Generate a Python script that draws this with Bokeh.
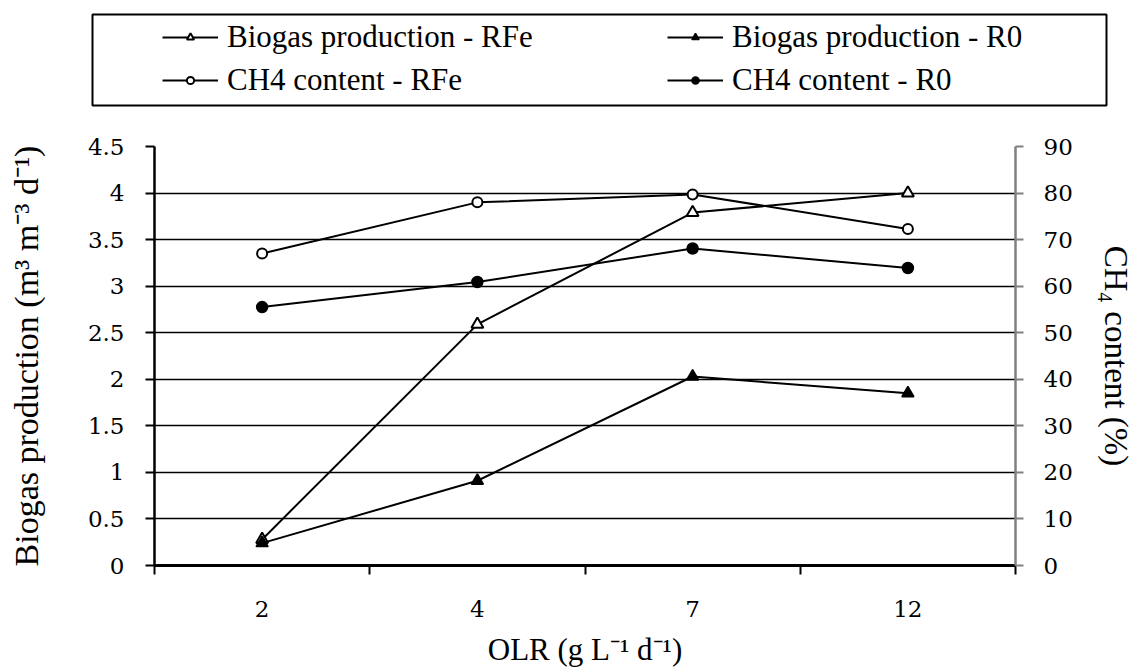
from bokeh.plotting import figure
from bokeh.models import (Range1d, LinearAxis, FixedTicker,
                          CustomJSTickFormatter, Legend, LegendItem)
from bokeh.embed import file_html
from bokeh.resources import INLINE

# ---------------- data ----------------
olr_labels = ["2", "4", "7", "12"]
biogas_rfe = [0.28, 2.59, 3.79, 4.00]
biogas_r0 = [0.24, 0.91, 2.03, 1.85]
ch4_rfe = [67.0, 78.0, 79.7, 72.3]
ch4_r0 = [55.5, 60.9, 68.1, 63.9]
series_names = ["Biogas production - RFe", "Biogas production - R0",
                "CH4 content - RFe", "CH4 content - R0"]
left_ticks = [0, 0.5, 1, 1.5, 2, 2.5, 3, 3.5, 4, 4.5]
right_ticks = [0, 10, 20, 30, 40, 50, 60, 70, 80, 90]
left_label = "Biogas production (m³ m⁻³ d⁻¹)"
right_label = "CH₄ content (%)"
bottom_label = "OLR (g L⁻¹ d⁻¹)"

# category slots: each category sits in the middle of its slot (Excel category axis)
n_cat = len(olr_labels)
x_pos = [i + 0.5 for i in range(n_cat)]
x_bounds = list(range(n_cat + 1))

TICK_FONT = "DejaVu Serif"
LABEL_FONT = "Liberation Serif"

series_style = [
    dict(y=biogas_rfe, marker="triangle", size=12, fill="white", lw=2, rng="default"),
    dict(y=biogas_r0, marker="triangle", size=12, fill="black", lw=1.5, rng="default"),
    dict(y=ch4_rfe, marker="circle", size=10, fill="white", lw=2, rng="ch4"),
    dict(y=ch4_r0, marker="circle", size=11, fill="black", lw=1.5, rng="ch4"),
]

# ---------------- main chart ----------------
p = figure(width=1136, height=559, x_range=Range1d(0, n_cat),
           y_range=Range1d(0, 4.5),
           output_backend="svg", toolbar_location=None,
           min_border_left=154, min_border_right=119, min_border_top=36, min_border_bottom=104)
p.outline_line_color = None
p.background_fill_color = "white"
p.xgrid.visible = False
p.ygrid.grid_line_color = "black"
p.ygrid.grid_line_width = 1.6
p.ygrid.ticker = FixedTicker(ticks=left_ticks)

ly = p.yaxis[0]
ly.ticker = FixedTicker(ticks=left_ticks)
ly.formatter = CustomJSTickFormatter(code="return tick.toString()")
ly.axis_line_color = "black"
ly.axis_line_width = 2.5
ly.major_tick_line_color = "black"
ly.major_tick_line_width = 2
ly.major_tick_out = 9
ly.major_tick_in = 0
ly.minor_tick_line_color = None
ly.major_label_standoff = 21
ly.major_label_text_font = TICK_FONT
ly.major_label_text_font_size = "23px"
ly.major_label_text_color = "black"
ly.axis_label = left_label
ly.axis_label_text_font = LABEL_FONT
ly.axis_label_text_font_size = "34px"
ly.axis_label_text_font_style = "normal"
ly.axis_label_text_color = "black"
ly.axis_label_standoff = 40

p.extra_y_ranges = {"ch4": Range1d(0, 90)}
ry = LinearAxis(y_range_name="ch4", ticker=FixedTicker(ticks=right_ticks),
                formatter=CustomJSTickFormatter(code="return tick.toString()"))
ry.axis_line_color = "#808080"
ry.axis_line_width = 2.5
ry.major_tick_line_color = "#808080"
ry.major_tick_line_width = 2
ry.major_tick_out = 8
ry.major_tick_in = 0
ry.minor_tick_line_color = None
ry.major_label_standoff = 20
ry.major_label_text_font = TICK_FONT
ry.major_label_text_font_size = "23px"
ry.major_label_text_color = "black"
ry.axis_label = right_label
ry.axis_label_text_font = LABEL_FONT
ry.axis_label_text_font_size = "33px"
ry.axis_label_text_font_style = "normal"
ry.axis_label_text_color = "black"
ry.axis_label_standoff = 22
p.add_layout(ry, "right")

bx = p.xaxis[0]
bx.ticker = FixedTicker(ticks=x_pos, minor_ticks=x_bounds)
bx.formatter = CustomJSTickFormatter(args=dict(labels=olr_labels),
                                     code="return labels[Math.floor(tick)]")
bx.axis_line_color = "black"
bx.axis_line_width = 3
bx.major_tick_line_color = None
bx.major_tick_out = 0
bx.major_tick_in = 0
bx.minor_tick_line_color = "black"
bx.minor_tick_line_width = 2
bx.minor_tick_out = 9
bx.minor_tick_in = 0
bx.major_label_standoff = 26
bx.major_label_text_font = TICK_FONT
bx.major_label_text_font_size = "23px"
bx.major_label_text_color = "black"
bx.axis_label = bottom_label
bx.axis_label_text_font = LABEL_FONT
bx.axis_label_text_font_size = "31px"
bx.axis_label_text_font_style = "normal"
bx.axis_label_text_color = "black"
bx.axis_label_standoff = 12


def add_series(fig, s):
    kw = {} if s["rng"] == "default" else {"y_range_name": s["rng"]}
    rl = fig.line(x_pos, s["y"], line_color="black", line_width=2, **kw)
    rs = fig.scatter(x_pos, s["y"], marker=s["marker"], size=s["size"], fill_color=s["fill"],
                     line_color="black", line_width=s["lw"], **kw)
    return [rl, rs]


for s in series_style:
    add_series(p, s)

# ---------------- framed legend strip above the chart ----------------
# Its plot area is the legend frame; the series are drawn again only so the legend
# can show their line+marker samples (ranges keep them out of view).
lf = figure(width=1136, height=110, x_range=Range1d(0, n_cat), y_range=Range1d(-2, -1),
            x_axis_location=None, y_axis_location=None,
            output_backend="svg", toolbar_location=None,
            min_border_left=92, min_border_right=30, min_border_top=14, min_border_bottom=5)
lf.grid.visible = False
lf.outline_line_color = "black"
lf.outline_line_width = 2
lf.extra_y_ranges = {"ch4": Range1d(-2, -1)}

proxies = [add_series(lf, s) for s in series_style]
items = [LegendItem(label=name, renderers=r) for name, r in zip(series_names, proxies)]


def make_legend(its, x):
    return Legend(items=its, location=(x, 7), orientation="vertical",
                  border_line_color=None, background_fill_alpha=0,
                  padding=0, margin=0, spacing=7,
                  glyph_width=56, glyph_height=18, label_standoff=9,
                  label_height=36,
                  label_text_font=LABEL_FONT, label_text_font_size="31px",
                  label_text_color="black")


lf.add_layout(make_legend([items[0], items[2]], 70))
lf.add_layout(make_legend([items[1], items[3]], 575))

open("out.html", "w").write(file_html([lf, p], INLINE))
